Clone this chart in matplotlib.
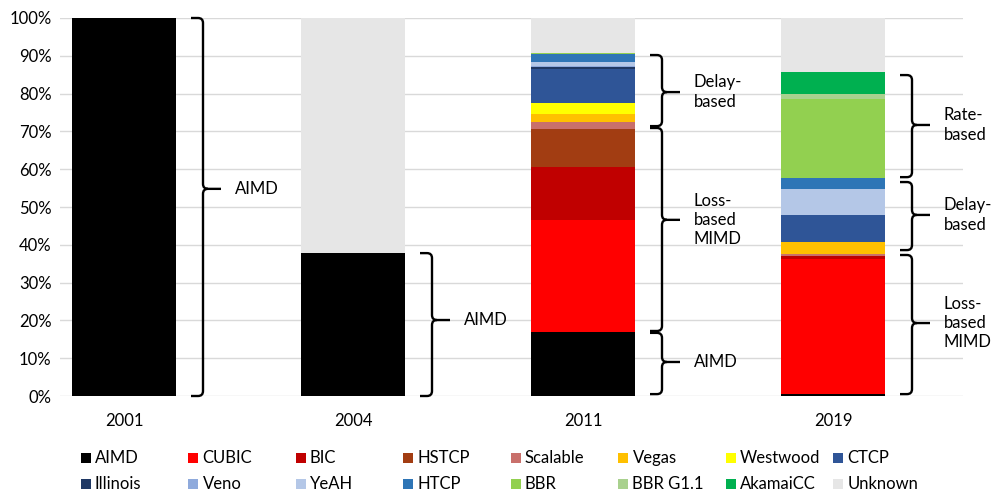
import numpy as np, matplotlib
matplotlib.use('Agg')
import matplotlib.pyplot as plt
from matplotlib.path import Path
from matplotlib.patches import PathPatch, Rectangle

plt.rcParams['font.family'] = ['Lato', 'DejaVu Sans']

# Share of web servers per congestion control algorithm (%)
years = ['2001', '2004', '2011', '2019']
algos = ['AIMD', 'CUBIC', 'BIC', 'HSTCP', 'Scalable', 'Vegas', 'Westwood', 'CTCP',
         'Illinois', 'Veno', 'YeAH', 'HTCP', 'BBR', 'BBR G1.1', 'AkamaiCC', 'Unknown']
colors = ['#000000', '#FF0000', '#C00000', '#A23D12', '#C9706B', '#FFC000', '#FFFF00', '#2F5597',
          '#1F3864', '#8FAADC', '#B4C7E7', '#2E75B6', '#92D050', '#A9D18E', '#00B050', '#E6E6E6']
share_2001 = [100, 0, 0, 0, 0, 0, 0, 0, 0, 0, 0, 0, 0, 0, 0, 0]
share_2004 = [37.8, 0, 0, 0, 0, 0, 0, 0, 0, 0, 0, 0, 0, 0, 0, 62.2]
share_2011 = [16.9, 29.7, 13.9, 10.1, 1.8, 2.1, 2.9, 9.1, 0.6, 0.1, 1.2, 2.0, 0.4, 0, 0, 9.2]
share_2019 = [0.5, 35.7, 0.9, 0, 0.5, 3.1, 0, 7.1, 0, 0, 6.9, 3.1, 20.8, 1.2, 5.9, 14.3]
shares = np.array([share_2001, share_2004, share_2011, share_2019])

# brace annotations: (year index, low %, high %, tip %, label)
braces = [
    (0, 0.0, 100.0, 54.8, 'AIMD'),
    (1, 0.0, 37.8, 20.1, 'AIMD'),
    (2, 0.5, 16.7, 9.0, 'AIMD'),
    (2, 17.2, 70.9, 46.6, 'Loss-\nbased\nMIMD'),
    (2, 71.4, 90.2, 80.4, 'Delay-\nbased'),
    (3, 0.5, 37.3, 19.3, 'Loss-\nbased\nMIMD'),
    (3, 38.6, 56.6, 47.9, 'Delay-\nbased'),
    (3, 57.9, 84.9, 71.7, 'Rate-\nbased'),
]

W, H = 1003, 494
fig = plt.figure(figsize=(W / 100, H / 100), dpi=100)
ax = fig.add_axes([60 / W, 1 - 396 / H, (963 - 60) / W, (396 - 18) / H])

xpos = [124, 353, 583, 833]   # bar centres in pixel-like units
bw = 104
ax.set_xlim(60, 963)
ax.set_ylim(0, 100)

bottom = np.zeros(len(years))
for j, name in enumerate(algos):
    ax.bar(xpos, shares[:, j], bottom=bottom, width=bw, color=colors[j], linewidth=0, zorder=3)
    bottom += shares[:, j]

ax.set_yticks(np.arange(0, 101, 10))
ax.set_yticklabels([f'{v}%' for v in range(0, 101, 10)])
ax.set_xticks(xpos)
ax.set_xticklabels(years)
ax.tick_params(length=0, labelsize=12, colors='black')
ax.tick_params(axis='x', pad=12)
ax.tick_params(axis='y', pad=6)
ax.grid(axis='y', color='#D9D9D9', linewidth=1, zorder=0)
for s in ax.spines.values():
    s.set_visible(False)

ppy = (396 - 18) / 100.0   # pixels per percent


def draw_brace(x, lo, hi, ym, label):
    xh, xv, xt = x + 15, x + 27, x + 45
    r, ry = 5, 5 / ppy
    verts = [(xh, hi), (xv - r, hi), (xv, hi), (xv, hi - ry), (xv, ym + ry), (xv, ym), (xv + r, ym),
             (xt, ym),
             (xv + r, ym), (xv, ym), (xv, ym - ry), (xv, lo + ry), (xv, lo), (xv - r, lo), (xh, lo)]
    codes = [Path.MOVETO, Path.LINETO, Path.CURVE3, Path.CURVE3, Path.LINETO, Path.CURVE3, Path.CURVE3,
             Path.LINETO,
             Path.MOVETO, Path.CURVE3, Path.CURVE3, Path.LINETO, Path.CURVE3, Path.CURVE3, Path.LINETO]
    ax.add_patch(PathPatch(Path(verts, codes), facecolor='none', edgecolor='black',
                           linewidth=1.7, clip_on=False, zorder=4, capstyle='butt'))
    ax.text(xt + 14, ym, label, fontsize=12, va='center', ha='left', linespacing=1.25)


for i, lo, hi, tip, label in braces:
    draw_brace(xpos[i] + bw / 2, lo, hi, tip, label)

# legend, laid out like the original two rows of eight
lax = fig.add_axes([0, 0, 1, 1])
lax.set_xlim(0, W)
lax.set_ylim(H, 0)
lax.axis('off')
col_x = [86 + 107.5 * k for k in range(8)]
row_y = [458, 484]
for j, name in enumerate(algos):
    cx, cy = col_x[j % 8], row_y[j // 8]
    lax.add_patch(Rectangle((cx - 5, cy - 5), 10, 10, facecolor=colors[j], edgecolor='none'))
    lax.text(cx + 9, cy, name, fontsize=12, va='center', ha='left')

fig.savefig('out.png', dpi=100)
